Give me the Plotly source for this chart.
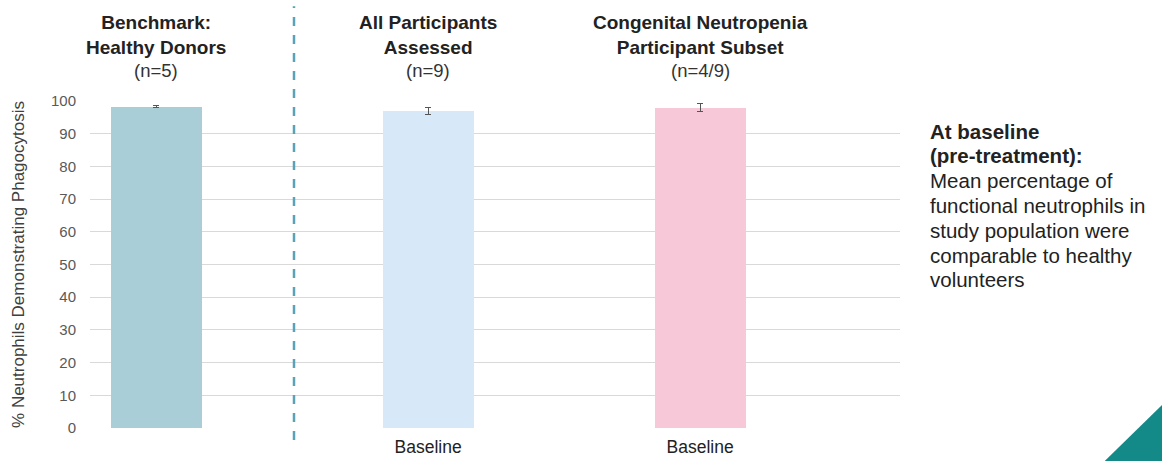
import plotly.graph_objects as go

groups = ["Benchmark:<br>Healthy Donors", "All Participants<br>Assessed", "Congenital Neutropenia<br>Participant Subset"]
group_n = ["(n=5)", "(n=9)", "(n=4/9)"]
tick_labels = ["", "Baseline", "Baseline"]
values = [98.2, 97.0, 97.9]
errors = [0.3, 1.0, 1.2]
colors = ["#a9ced7", "#d7e9f8", "#f6c8d8"]
y_ticks = [0, 10, 20, 30, 40, 50, 60, 70, 80, 90, 100]
positions = [0, 1, 2]
note_lines = ["<b>At baseline</b>", "<b>(pre-treatment):</b>", "Mean percentage of",
              "functional neutrophils in", "study population were",
              "comparable to healthy", "volunteers"]

FONT = "Liberation Sans, Arial, sans-serif"

fig = go.Figure()
fig.add_trace(go.Bar(
    x=positions, y=values, width=0.335,
    marker=dict(color=colors, line=dict(width=0)),
    error_y=dict(type="data", array=errors, visible=True, color="#555555", thickness=1, width=3),
    showlegend=False, hoverinfo="skip",
))

# group headers
for p, g, n in zip(positions, groups, group_n):
    fig.add_annotation(x=p, y=1, xref="x", yref="paper", yshift=91, yanchor="top",
                       text=f"<b>{g}</b>", showarrow=False,
                       font=dict(family=FONT, size=19, color="#222222"), align="center")
    fig.add_annotation(x=p, y=1, xref="x", yref="paper", yshift=43, yanchor="top",
                       text=n, showarrow=False,
                       font=dict(family=FONT, size=18.5, color="#333333"), align="center")

# dashed separator
fig.add_shape(type="line", xref="x", yref="paper", x0=0.507, x1=0.507, y0=-0.037, y1=1.29,
              line=dict(color="#5aa2b8", width=2.5, dash="dash"))

# right-side note
for i, line in enumerate(note_lines):
    fig.add_annotation(x=1.0, y=1, xref="paper", yref="paper", xanchor="left", yanchor="middle",
                       xshift=28, yshift=-30 - 24.8 * i, align="left", showarrow=False,
                       text=line, font=dict(family=FONT, size=20.5, color="#222222"))

# decorative corner triangle
fig.add_shape(type="path", xref="paper", yref="paper",
              path="M 1.249,-0.11 L 1.34,-0.11 L 1.34,0.11 Z",
              fillcolor="#138a87", line=dict(width=0), layer="above")

fig.update_layout(
    width=1162, height=461,
    margin=dict(l=90, r=262, t=101, b=33, autoexpand=False),
    paper_bgcolor="white", plot_bgcolor="white",
    bargap=0,
    font=dict(family=FONT),
    xaxis=dict(range=[-0.243, 2.735], tickmode="array", tickvals=positions, ticktext=tick_labels,
               showgrid=False, zeroline=False, showline=False, ticks="", automargin=False,
               ticklabelstandoff=6,
               tickfont=dict(family=FONT, size=17.5, color="#222222")),
    yaxis=dict(range=[0, 100], tickmode="array", tickvals=y_ticks, automargin=False,
               showgrid=True, gridcolor="#d9d9d9", gridwidth=1, zeroline=False,
               showline=False, ticks="", ticklabelstandoff=13,
               tickfont=dict(family=FONT, size=15, color="#595959"),
               title=dict(text="% Neutrophils Demonstrating Phagocytosis", standoff=22,
                          font=dict(family=FONT, size=17, color="#404040"))),
)

fig.write_html("out.html", config={"displayModeBar": False},
               post_script="document.body.style.margin='0';document.body.style.overflow='hidden';")
